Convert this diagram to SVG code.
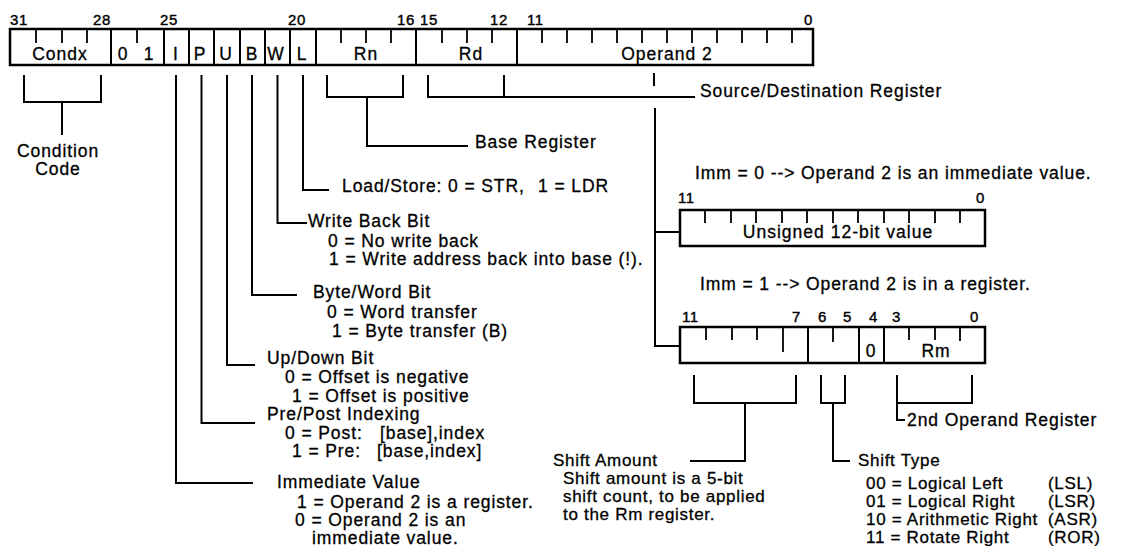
<svg xmlns="http://www.w3.org/2000/svg" width="1142" height="546" viewBox="0 0 1142 546">
<style>
  text { font-family: "Liberation Sans", Arial, sans-serif; fill: #000; stroke: #000; stroke-width: 0.3px; }
  .t { font-size: 17.5px; letter-spacing: 0.9px; }
  .s { font-size: 17px; letter-spacing: 0.7px; }
  .c { font-size: 17.5px; letter-spacing: 1px; text-anchor: middle; }
  .n { font-size: 15px; letter-spacing: 0.6px; stroke-width: 0.4px; }
  .m { text-anchor: middle; }
  .e { text-anchor: end; }
  .box { fill: #fff; stroke: #000; stroke-width: 2.5; }
  .ln { fill: none; stroke: #000; stroke-width: 2; }
  .tk { fill: none; stroke: #000; stroke-width: 1.8; }
</style>
<rect width="1142" height="546" fill="#fff"/>

<g id="instruction-word">
  <rect class="box" x="10" y="29" width="803" height="36"/>
  <path class="ln" d="M111 29V65M164 29V65M189 29V65M214 29V65M240 29V65M265 29V65M290 29V65M316 29V65M416 29V65M517 29V65"/>
  <path class="tk" d="M36 29V43M62 29V43M87 29V43M137 29V43M341 29V43M366 29V43M391 29V43M442 29V43M467 29V43M492 29V43M542 29V43M567 29V43M592 29V43M617 29V43M642 29V43M667 29V43M692 29V43M717 29V43M742 29V43M767 29V43M792 29V43"/>
  <text class="n" x="10" y="25">31</text>
  <text class="n e" x="111" y="25">28</text>
  <text class="n" x="160" y="25">25</text>
  <text class="n" x="288" y="25">20</text>
  <text class="n" x="397" y="25">16</text>
  <text class="n" x="420" y="25">15</text>
  <text class="n" x="490" y="25">12</text>
  <text class="n" x="527" y="25">11</text>
  <text class="n e" x="813" y="25">0</text>
  <text class="c" x="60" y="60">Condx</text>
  <text class="c" x="123" y="60">0</text>
  <text class="c" x="149" y="60">1</text>
  <text class="c" x="176" y="60">I</text>
  <text class="c" x="200" y="60">P</text>
  <text class="c" x="226" y="60">U</text>
  <text class="c" x="252" y="60">B</text>
  <text class="c" x="276" y="60">W</text>
  <text class="c" x="302" y="60">L</text>
  <text class="c" x="366" y="60">Rn</text>
  <text class="c" x="471" y="60">Rd</text>
  <text class="c" x="667" y="60">Operand 2</text>
</g>

<g id="connectors">
  <path class="ln" d="M24 75V102H101V75M62 102V135"/>
  <path class="ln" d="M176 75V483H253"/>
  <path class="ln" d="M201.5 75V423H255"/>
  <path class="ln" d="M227 75V365H255"/>
  <path class="ln" d="M252 75V295H297"/>
  <path class="ln" d="M277.5 75V223H307"/>
  <path class="ln" d="M303 75V190H329"/>
  <path class="ln" d="M327 75V97H403V75M367 97V146H468"/>
  <path class="ln" d="M428 75V97H695M504 75V97"/>
  <path class="ln" d="M654 73V86M655 108V346H680M655 232H680"/>
  <path class="ln" d="M694 375V403H796V375M745 403V461H690"/>
  <path class="ln" d="M821 375V403H845V375M833 403V461H850"/>
  <path class="ln" d="M897 375V420H905M897 403H972V375"/>
</g>

<g id="condition-code">
  <text class="t m" x="58" y="157">Condition</text>
  <text class="t m" x="58" y="175">Code</text>
</g>

<g id="load-store">
  <text class="t" x="342" y="192">Load/Store:</text>
  <text class="t" x="448" y="192">0 = STR,</text>
  <text class="t" x="538" y="192">1 = LDR</text>
</g>

<g id="base-register">
  <text class="t" x="475" y="148">Base Register</text>
</g>

<g id="source-destination">
  <text class="t" x="700" y="97">Source/Destination Register</text>
</g>

<g id="write-back">
  <text class="t" x="308" y="227">Write Back Bit</text>
  <text class="t" x="328" y="247">0 = No write back</text>
  <text class="t" x="329" y="265">1 = Write address back into base (!).</text>
</g>

<g id="byte-word">
  <text class="t" x="313" y="298">Byte/Word Bit</text>
  <text class="t" x="327" y="318">0 = Word transfer</text>
  <text class="t" x="332" y="337">1 = Byte transfer (B)</text>
</g>

<g id="up-down">
  <text class="t" x="267" y="364">Up/Down Bit</text>
  <text class="t" x="285" y="383">0 = Offset is negative</text>
  <text class="t" x="292" y="402">1 = Offset is positive</text>
</g>

<g id="pre-post">
  <text class="t" x="267" y="420">Pre/Post Indexing</text>
  <text class="t" x="285" y="439">0 = Post:</text>
  <text class="t" x="380" y="439">[base],index</text>
  <text class="t" x="292" y="457">1 = Pre:</text>
  <text class="t" x="377" y="457">[base,index]</text>
</g>

<g id="immediate-value">
  <text class="t" x="277" y="488">Immediate Value</text>
  <text class="t" x="297" y="508">1 = Operand 2 is a register.</text>
  <text class="t" x="295" y="526">0 = Operand 2 is an</text>
  <text class="t" x="312" y="544">immediate value.</text>
</g>

<g id="operand-immediate">
  <text class="t" x="695" y="179">Imm = 0 --&gt; Operand 2 is an immediate value.</text>
  <rect class="box" x="680" y="210" width="305" height="36"/>
  <path class="tk" d="M705 210V223M731 210V223M756 210V223M782 210V223M807 210V223M833 210V223M858 210V223M884 210V223M909 210V223M935 210V223M960 210V223"/>
  <text class="n" x="678" y="203">11</text>
  <text class="n e" x="985" y="203">0</text>
  <text class="c" x="838" y="238">Unsigned 12-bit value</text>
</g>

<g id="operand-register">
  <text class="t" x="700" y="290">Imm = 1 --&gt; Operand 2 is in a register.</text>
  <rect class="box" x="680" y="327" width="305" height="36"/>
  <path class="ln" d="M808 327V363M859 327V363M884 327V363"/>
  <path class="tk" d="M706 327V340M732 327V340M757 327V340M783 327V352M833 327V342M909 327V340M935 327V340M960 327V341"/>
  <text class="n" x="682" y="322">11</text>
  <text class="n" x="792" y="322">7</text>
  <text class="n" x="818" y="322">6</text>
  <text class="n" x="843" y="322">5</text>
  <text class="n" x="869" y="322">4</text>
  <text class="n" x="892" y="322">3</text>
  <text class="n" x="970" y="322">0</text>
  <text class="c" x="871" y="357">0</text>
  <text class="c" x="936" y="357">Rm</text>
</g>

<g id="second-operand">
  <text class="t" x="907" y="426">2nd Operand Register</text>
</g>

<g id="shift-amount">
  <text class="s" x="553" y="466">Shift Amount</text>
  <text class="s" x="563" y="484">Shift amount is a 5-bit</text>
  <text class="s" x="563" y="502">shift count, to be applied</text>
  <text class="s" x="563" y="520">to the Rm register.</text>
</g>

<g id="shift-type">
  <text class="s" x="858" y="466">Shift Type</text>
  <text class="s" x="866" y="489">00 = Logical Left</text>
  <text class="s" x="1048" y="489">(LSL)</text>
  <text class="s" x="866" y="507">01 = Logical Right</text>
  <text class="s" x="1048" y="507">(LSR)</text>
  <text class="s" x="866" y="525">10 = Arithmetic Right</text>
  <text class="s" x="1048" y="525">(ASR)</text>
  <text class="s" x="866" y="543">11 = Rotate Right</text>
  <text class="s" x="1048" y="543">(ROR)</text>
</g>
</svg>
